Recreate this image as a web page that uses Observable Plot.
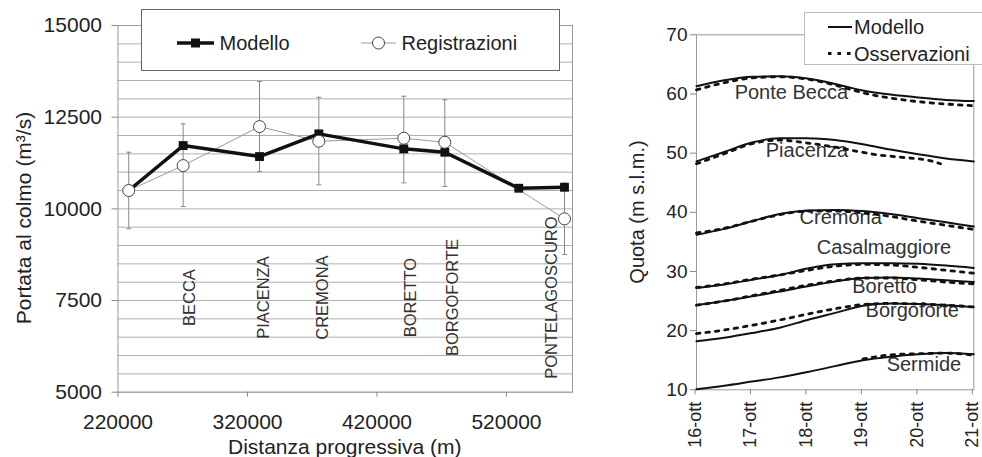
<!DOCTYPE html>
<html><head><meta charset="utf-8">
<script src="https://cdn.jsdelivr.net/npm/d3@7"></script>
<script src="https://cdn.jsdelivr.net/npm/@observablehq/plot@0.6"></script>
<style>
body{margin:0;background:#fff;font-family:"Liberation Sans",Arial,Helvetica,sans-serif;}
#wrap{position:relative;width:982px;height:457px;overflow:hidden;background:#fff;}
.ttl{position:absolute;white-space:nowrap;color:#222;line-height:1;}
</style></head><body><div id="wrap"></div>
<script>
// ---------- Left chart data ----------
const distanza = [228300, 270300, 329300, 375100, 440700, 472400, 529500, 564800];
const portataModello = [10500, 11726, 11426, 12045, 11636, 11544, 10562, 10589];
const portataRegistrazioni = [10500, 11180, 12244, 11844, 11925, 11816, null, 9727];
const erroreInf = [9455, 10063, 11017, 10654, 10709, 10608, null, 8754];
const erroreSup = [11544, 12318, 13471, 13043, 13071, 12972, null, 10700];
const stazioni = ["BECCA", "PIACENZA", "CREMONA", "BORETTO", "BORGOFORTE", "PONTELAGOSCURO"];
const stazioniX = [275100, 332900, 378300, 445700, 478200, 554800];
const stazioniY = [7580, 7580, 7580, 7580, 7580, 7580];
const xTicksSinistra = [220000, 320000, 420000, 520000];
const yTicksSinistra = [5000, 7500, 10000, 12500, 15000];
const grigliaSinistra = d3.range(5000, 15001, 500);

// ---------- Right chart data ----------
const giorni = [16, 16.5, 17, 17.5, 18, 18.5, 19, 19.5, 20, 20.5, 21];
const giorniTick = [16, 17, 18, 19, 20, 21];
const etichetteGiorni = ["16-ott", "17-ott", "18-ott", "19-ott", "20-ott", "21-ott"];
const yTicksDestra = [10, 20, 30, 40, 50, 60, 70];

const modPonteBecca    = [61.3, 62.3, 62.9, 63.0, 62.6, 61.7, 60.6, 59.9, 59.4, 59.0, 58.8];
const ossPonteBecca    = [60.7, 61.9, 62.7, 62.9, 62.5, 61.5, 60.2, 59.3, 58.7, 58.3, 58.0];
const modPiacenza      = [48.6, 50.2, 51.8, 52.5, 52.5, 52.2, 51.5, 50.6, 49.8, 49.1, 48.6];
const tOssPiacenza     = [16, 16.5, 17, 17.5, 18, 18.5, 18.9, 19.2, 19.7, 20.2, 20.4];
const ossPiacenza      = [48.2, 49.9, 51.6, 52.2, 51.7, 51.0, 50.3, 49.8, 49.3, 48.75, 48.2];
const modCremona       = [36.2, 37.2, 38.5, 39.7, 40.3, 40.4, 40.2, 39.7, 39.0, 38.3, 37.6];
const ossCremona       = [36.5, 37.3, 38.5, 39.6, 40.2, 40.2, 39.9, 39.3, 38.5, 37.8, 37.1];
const modCasalmaggiore = [27.2, 27.8, 28.6, 29.4, 30.5, 31.2, 31.4, 31.4, 31.3, 31.0, 30.6];
const ossCasalmaggiore = [27.3, 27.9, 28.7, 29.4, 30.2, 30.9, 31.2, 31.1, 30.7, 30.2, 29.7];
const modBoretto       = [24.3, 25.0, 25.8, 26.6, 27.5, 28.3, 28.9, 29.0, 28.8, 28.5, 28.2];
const ossBoretto       = [24.3, 25.0, 25.9, 26.8, 27.7, 28.4, 28.9, 28.9, 28.6, 28.2, 27.9];
const modBorgoforte    = [18.2, 18.8, 19.6, 20.5, 21.8, 23.0, 24.2, 24.6, 24.5, 24.3, 24.0];
const ossBorgoforte    = [19.5, 20.1, 20.9, 21.8, 22.8, 23.7, 24.4, 24.6, 24.5, 24.3, 24.0];
const modSermide       = [10.1, 10.7, 11.4, 12.1, 13.0, 14.0, 15.0, 15.6, 16.0, 16.2, 16.0];
const tOssSermide      = [19, 19.5, 20, 20.5, 21];
const ossSermide       = [15.2, 15.9, 16.1, 16.2, 15.85];

const nomiStazioni = ["Ponte Becca", "Piacenza", "Cremona", "Casalmaggiore", "Boretto", "Borgoforte", "Sermide"];
const nomiT = [17.71, 17.99, 18.6, 19.38, 19.39, 19.89, 20.1];
const nomiQ = [60.2, 50.4, 39.1, 34.0, 27.4, 23.45, 14.33];

// ---------- build tables ----------
const FONT = '"Liberation Sans", Arial, Helvetica, sans-serif';
const mod = distanza.map((x, i) => ({x, v: portataModello[i]}));
const obs = distanza.map((x, i) => ({x, v: portataRegistrazioni[i], lo: erroreInf[i], hi: erroreSup[i]}))
  .filter(d => d.v != null);
const cap = {draw(ctx, size) { const w = Math.sqrt(size / Math.PI); ctx.moveTo(-w, 0); ctx.lineTo(w, 0); }};

const wrap = document.getElementById("wrap");

const left = Plot.plot({
  width: 600, height: 457,
  marginLeft: 117.5, marginRight: 28, marginTop: 25, marginBottom: 65.3,
  style: {fontFamily: FONT, fontSize: "21px", color: "#222", background: "transparent"},
  x: {domain: [220000, 571000]},
  y: {domain: [5000, 15000]},
  marks: [
    Plot.ruleY(grigliaSinistra, {stroke: "#b0b0b0", strokeWidth: 1}),
    Plot.frame({stroke: "#9a9a9a"}),
    Plot.axisY({ticks: yTicksSinistra, tickFormat: "d", tickSize: 6, tickPadding: 10, fontSize: 21, label: null, stroke: "#888"}),
    Plot.axisX({ticks: xTicksSinistra, tickFormat: "d", tickSize: 5, tickPadding: 17, fontSize: 21, label: null, stroke: "#888"}),
    Plot.text(stazioni, {x: stazioniX, y: stazioniY, text: d => d, rotate: -90, textAnchor: "middle", fontSize: 16.5, fill: "#333"}),
    Plot.ruleX(obs, {x: "x", y1: "lo", y2: "hi", stroke: "#888", strokeWidth: 1}),
    Plot.dot(obs, {x: "x", y: "lo", symbol: cap, r: 2.5, stroke: "#888", strokeWidth: 1}),
    Plot.dot(obs, {x: "x", y: "hi", symbol: cap, r: 2.5, stroke: "#888", strokeWidth: 1}),
    Plot.line(obs, {x: "x", y: "v", stroke: "#9a9a9a", strokeWidth: 1}),
    Plot.line(mod, {x: "x", y: "v", stroke: "#111", strokeWidth: 3.5}),
    Plot.dot(mod, {x: "x", y: "v", symbol: "square", r: 5, fill: "#111", stroke: "none"}),
    Plot.dot(obs, {x: "x", y: "v", r: 6, fill: "white", stroke: "#444", strokeWidth: 1})
  ]
});
left.style.position = "absolute"; left.style.left = "0px"; left.style.top = "0px";
wrap.appendChild(left);

// right chart tables
function serie(t, q, staz) { return t.map((tt, i) => ({t: tt, q: q[i], staz})); }
const modRows = [
  ...serie(giorni, modPonteBecca, "Ponte Becca"), ...serie(giorni, modPiacenza, "Piacenza"),
  ...serie(giorni, modCremona, "Cremona"), ...serie(giorni, modCasalmaggiore, "Casalmaggiore"),
  ...serie(giorni, modBoretto, "Boretto"), ...serie(giorni, modBorgoforte, "Borgoforte"),
  ...serie(giorni, modSermide, "Sermide")
];
const ossRows = [
  ...serie(giorni, ossPonteBecca, "Ponte Becca"), ...serie(tOssPiacenza, ossPiacenza, "Piacenza"),
  ...serie(giorni, ossCremona, "Cremona"), ...serie(giorni, ossCasalmaggiore, "Casalmaggiore"),
  ...serie(giorni, ossBoretto, "Boretto"), ...serie(giorni, ossBorgoforte, "Borgoforte"),
  ...serie(tOssSermide, ossSermide, "Sermide")
];

const right = Plot.plot({
  width: 382, height: 457,
  marginLeft: 96, marginRight: 8.7, marginTop: 34.3, marginBottom: 67.7,
  style: {fontFamily: FONT, fontSize: "20px", color: "#222", background: "transparent"},
  x: {domain: [16, 21]},
  y: {domain: [10, 70]},
  marks: [
    Plot.frame({stroke: "#9a9a9a"}),
    Plot.axisY({ticks: yTicksDestra, tickSize: 6, tickPadding: 3, fontSize: 19, label: null, stroke: "#888"}),
    Plot.axisX({ticks: giorniTick, tickFormat: d => etichetteGiorni[giorniTick.indexOf(d)], tickRotate: -90, tickSize: 5, tickPadding: 7, fontSize: 18, dx: -1.5, label: null, stroke: "#888"}),
    Plot.text(nomiStazioni, {x: nomiT, y: nomiQ, text: d => d, fontSize: 20, fill: "#333", lineAnchor: "middle"}),
    Plot.line(modRows, {x: "t", y: "q", z: "staz", curve: "monotone-x", stroke: "#111", strokeWidth: 2}),
    Plot.line(ossRows, {x: "t", y: "q", z: "staz", curve: "monotone-x", stroke: "#111", strokeWidth: 2.8, strokeDasharray: "3.5,6"})
  ]
});
right.style.position = "absolute"; right.style.left = "600px"; right.style.top = "0px";
wrap.appendChild(right);

// ---------- titles (HTML text) ----------
function addTitle(text, cx, cy, size, rotate) {
  const d = document.createElement("div");
  d.className = "ttl";
  d.textContent = text;
  d.style.fontSize = size + "px";
  d.style.fontFamily = FONT;
  d.style.left = cx + "px"; d.style.top = cy + "px";
  d.style.transform = "translate(-50%,-50%)" + (rotate ? " rotate(-90deg)" : "");
  wrap.appendChild(d);
}
addTitle("Portata al colmo (m³/s)", 22.5, 218, 21, true);
addTitle("Distanza progressiva (m)", 344.7, 445.5, 21, false);
addTitle("Quota (m s.l.m.)", 637, 212, 20, true);

// ---------- legends ----------
const NS = "http://www.w3.org/2000/svg";
function legend(x, y, w, h, border, items) {
  const s = document.createElementNS(NS, "svg");
  s.setAttribute("width", w); s.setAttribute("height", h);
  s.style.position = "absolute"; s.style.left = x + "px"; s.style.top = y + "px";
  s.innerHTML = `<rect x="0.5" y="0.5" width="${w - 1}" height="${h - 1}" fill="white" stroke="${border}"/>` + items;
  wrap.appendChild(s);
}
// left legend
legend(141, 9, 419, 62, "#666",
  `<line x1="36" x2="73" y1="34" y2="34" stroke="#111" stroke-width="3.5"/>
   <rect x="50" y="29.5" width="9" height="9" fill="#111"/>
   <text x="78.5" y="41" font-size="20" fill="#222" font-family='${FONT}'>Modello</text>
   <line x1="220" x2="255" y1="34" y2="34" stroke="#9a9a9a" stroke-width="1"/>
   <circle cx="237.5" cy="34" r="6" fill="white" stroke="#444"/>
   <text x="260.5" y="41" font-size="20" fill="#222" font-family='${FONT}'>Registrazioni</text>`);
// right legend
legend(804, 12, 190, 53, "#bbb",
  `<line x1="24" x2="48" y1="15" y2="15" stroke="#111" stroke-width="2"/>
   <text x="50" y="22" font-size="20" fill="#222" font-family='${FONT}'>Modello</text>
   <line x1="24" x2="48" y1="41.5" y2="41.5" stroke="#111" stroke-width="2.8" stroke-dasharray="3.5,6"/>
   <text x="50" y="48.5" font-size="20" fill="#222" font-family='${FONT}'>Osservazioni</text>`);
</script></body></html>
